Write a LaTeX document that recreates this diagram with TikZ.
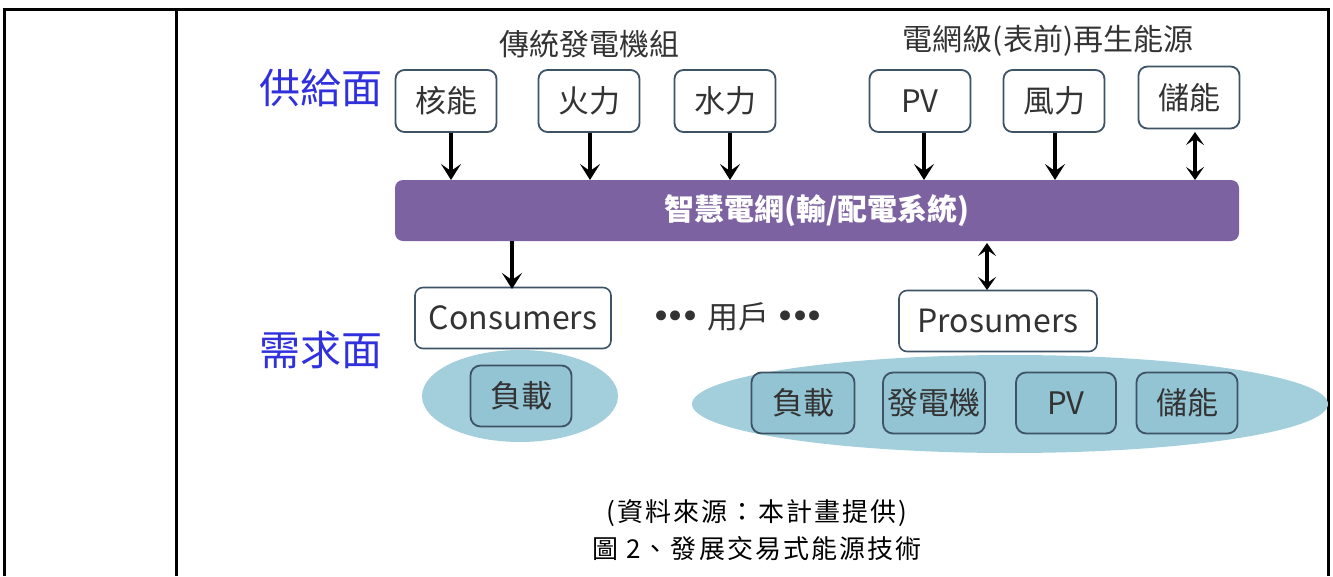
\documentclass[tikz,border=0pt]{standalone}
\usepackage{fontspec}
\setmainfont{Noto Sans CJK TC}
\newfontfamily\dotfont{DejaVu Sans}
\usetikzlibrary{arrows.meta,shapes.geometric}
\definecolor{barpurple}{HTML}{7D62A1}
\definecolor{boxedge}{HTML}{3E5366}
\definecolor{ellfill}{HTML}{A3CEDB}
\definecolor{inbox}{HTML}{93C4D4}
\definecolor{sideblue}{HTML}{3030DD}
\definecolor{txtgray}{HTML}{333333}
\newcommand{\mydots}{{\dotfont\fontsize{34}{34}\selectfont•\kern-6pt•\kern-6pt•}}
\tikzset{
  src/.style={draw=boxedge, line width=1.8pt, rounded corners=9pt, fill=white, minimum width=101pt, minimum height=62pt, inner sep=0pt, text=txtgray, font=\fontsize{31}{34}\selectfont},
  usr/.style={draw=boxedge, line width=1.6pt, rounded corners=8pt, fill=white, minimum height=61pt, inner sep=0pt, text=txtgray, font=\fontsize{32}{34}\selectfont},
  inb/.style={draw=boxedge, line width=1.8pt, rounded corners=10pt, fill=inbox, minimum width=101pt, minimum height=61pt, inner sep=0pt, text=txtgray, font=\fontsize{31}{34}\selectfont},
  ell/.style={ellipse, fill=ellfill, inner sep=0pt},
  grp/.style={font=\fontsize{30}{34}\selectfont, text=txtgray},
  side/.style={font=\fontsize{41}{44}\selectfont, text=sideblue},
  arr/.style={line width=3.2pt, -{Stealth[length=16pt,width=20pt,inset=7pt]}},
  darr/.style={line width=3.2pt, {Stealth[length=13pt,width=18pt,inset=6pt]}-{Stealth[length=13pt,width=18pt,inset=6pt]}},
  tblframe/.style={line width=3pt, black},
  captxt/.style={font=\fontsize{26}{30}\selectfont\addfontfeature{LetterSpace=8}}
}
\begin{document}
\begin{tikzpicture}[x=1pt,y=-1pt]
\useasboundingbox (0,0) rectangle (1333,576);
% table frame
\draw[tblframe] (4,576) -- (4,9) -- (1328,9) -- (1328,576);
\draw[tblframe] (176,9) -- (176,576);
% group titles
\node[grp] (t1) at (589,44) {傳統發電機組};
\node[grp] (t2) at (1048,41) {電網級(表前)再生能源};
\node[side] (sup) at (321,88) {供給面};
\node[side] (dem) at (321,350) {需求面};
% source boxes
\node[src] (b1) at (446,101) {核能};
\node[src] (b2) at (589,101) {火力};
\node[src] (b3) at (725,101) {水力};
\node[src] (b4) at (920,101) {PV};
\node[src] (b5) at (1054,101) {風力};
\node[src] (b6) at (1189,97.5) {儲能};
% smart grid bar
\node[fill=barpurple, rounded corners=8pt, minimum width=844pt, minimum height=61pt, inner sep=0pt, text=white, font=\fontsize{30}{34}\selectfont\bfseries] (bar) at (817,210.5) {智慧電網(輸/配電系統)};
% arrows from sources
\coordinate (a1) at (451,180);
\draw[arr] (b1.south -| a1) -- (a1);
\coordinate (a2) at (590,180);
\draw[arr] (b2.south -| a2) -- (a2);
\coordinate (a3) at (730,180);
\draw[arr] (b3.south -| a3) -- (a3);
\coordinate (a4) at (924,180);
\draw[arr] (b4.south -| a4) -- (a4);
\coordinate (a5) at (1055,180);
\draw[arr] (b5.south -| a5) -- (a5);
\coordinate (a6) at (1195,180);
\coordinate (a6t) at (1195,132);
\draw[darr] (a6t) -- (a6);
% ellipses
\node[ell, minimum width=196pt, minimum height=92pt] (e1) at (520,396) {};
\node[ell, minimum width=636pt, minimum height=98pt] (e2) at (1010,404) {};
% user boxes
\node[usr, minimum width=196pt] (cons) at (513,318) {Consumers};
\node[usr, minimum width=198pt] (pros) at (998,321) {Prosumers};
\node[font=\fontsize{31}{34}\selectfont, text=txtgray] (dots) at (738,317) {\mydots\ 用戶\ \mydots};
% arrows from bar
\coordinate (c1) at (512,289);
\draw[arr] (bar.south -| c1) -- (c1);
\coordinate (c2t) at (987,243);
\coordinate (c2) at (987,290);
\draw[darr] (c2t) -- (c2);
% inner boxes
\node[inb] (l1) at (521,396) {負載};
\node[inb, minimum width=103pt] (l2) at (803,403) {負載};
\node[inb, minimum width=102pt] (l3) at (934,403) {發電機};
\node[inb, minimum width=100pt] (l4) at (1066,403) {PV};
\node[inb] (l5) at (1187,403) {儲能};
% caption
\node[captxt] (cap1) at (757,513) {(資料來源：本計畫提供)};
\node[captxt] (cap2) at (757,549) {圖 2、發展交易式能源技術};
\end{tikzpicture}
\end{document}
